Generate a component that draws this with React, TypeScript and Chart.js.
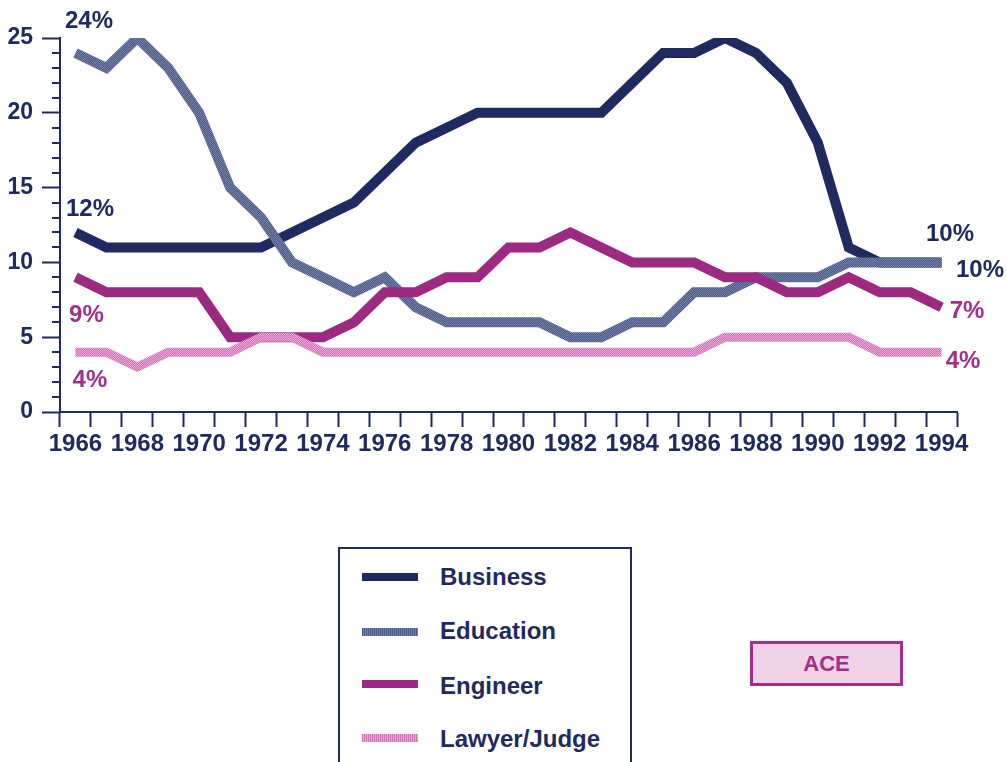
import React, { useEffect, useRef } from "react";
import { Chart, registerables } from "chart.js";

Chart.register(...registerables);

const years = [
  "1966", "1967", "1968", "1969", "1970", "1971", "1972", "1973", "1974", "1975",
  "1976", "1977", "1978", "1979", "1980", "1981", "1982", "1983", "1984", "1985",
  "1986", "1987", "1988", "1989", "1990", "1991", "1992", "1993", "1994",
];
const business = [12, 11, 11, 11, 11, 11, 11, 12, 13, 14, 16, 18, 19, 20, 20, 20, 20, 20, 22, 24, 24, 25, 24, 22, 18, 11, 10, 10, 10];
const education = [24, 23, 25, 23, 20, 15, 13, 10, 9, 8, 9, 7, 6, 6, 6, 6, 5, 5, 6, 6, 8, 8, 9, 9, 9, 10, 10, 10, 10];
const engineer = [9, 8, 8, 8, 8, 5, 5, 5, 5, 6, 8, 8, 9, 9, 11, 11, 12, 11, 10, 10, 10, 9, 9, 8, 8, 9, 8, 8, 7];
const lawyer = [4, 4, 3, 4, 4, 4, 5, 5, 4, 4, 4, 4, 4, 4, 4, 4, 4, 4, 4, 4, 4, 5, 5, 5, 5, 5, 4, 4, 4];
const yTicks = [0, 5, 10, 15, 20, 25];
const seriesNames = ["Business", "Education", "Engineer", "Lawyer/Judge"];

const NAVY = "#1f2a60";
const MAGENTA = "#9c2a83";
const LABEL_MAGENTA = "#a0308a";
const FONT = "'Liberation Sans', Arial, Helvetica, sans-serif";

// end labels: [text, color, series index, point index, dx, dy(baseline)]
const endLabels: [string, string, number, number, number, number][] = [
  ["24%", NAVY, 1, 0, 13.5, -25],
  ["12%", NAVY, 0, 0, 14.5, -16],
  ["9%", LABEL_MAGENTA, 2, 0, 11, 45],
  ["4%", LABEL_MAGENTA, 3, 0, 14.5, 35],
  ["10%", NAVY, 0, 28, 8.5, -21],
  ["10%", NAVY, 1, 28, 38.5, 15],
  ["7%", LABEL_MAGENTA, 2, 28, 25.5, 11],
  ["4%", LABEL_MAGENTA, 3, 28, 21.5, 16],
];

function makePattern(a: string, b: string): CanvasPattern | string {
  const c = document.createElement("canvas");
  c.width = 2;
  c.height = 2;
  const g = c.getContext("2d");
  if (!g) return a;
  g.fillStyle = a;
  g.fillRect(0, 0, 2, 2);
  g.fillStyle = b;
  g.fillRect(0, 0, 1, 1);
  g.fillRect(1, 1, 1, 1);
  const p = g.createPattern(c, "repeat");
  return p || a;
}

const axisExtras = {
  id: "axisExtras",
  afterDraw(chart: any) {
    const { ctx } = chart;
    const y = chart.scales.y;
    const left = chart.chartArea.left;
    ctx.save();
    ctx.strokeStyle = NAVY;
    ctx.lineWidth = 2;
    for (let v = 0; v <= 25; v++) {
      if (v % 5 === 0) continue;
      const py = Math.round(y.getPixelForValue(v));
      ctx.beginPath();
      ctx.moveTo(left - 8, py);
      ctx.lineTo(left, py);
      ctx.stroke();
    }
    ctx.restore();
  },
  afterDatasetsDraw(chart: any) {
    const { ctx } = chart;
    const x = chart.scales.x;
    const y = chart.scales.y;
    ctx.save();
    ctx.font = `bold 24px ${FONT}`;
    ctx.textAlign = "center";
    ctx.textBaseline = "alphabetic";
    for (const [text, color, si, pi, dx, dy] of endLabels) {
      const val = chart.data.datasets[si].data[pi];
      const px = x.getPixelForValue(pi);
      const py = y.getPixelForValue(val);
      ctx.fillStyle = color;
      ctx.fillText(text, px + dx, py + dy);
    }
    ctx.restore();
  },
};

export default function App() {
  const ref = useRef<HTMLCanvasElement | null>(null);

  useEffect(() => {
    if (!ref.current) return;
    const eduPat = makePattern("#4c5a88", "#7581a8");
    const lawPat = makePattern("#cc72b4", "#e9aad7");
    const chart = new Chart(ref.current, {
      type: "line",
      data: {
        labels: years,
        datasets: [
          { label: seriesNames[0], data: business, borderColor: NAVY, borderWidth: 10, order: 4 },
          { label: seriesNames[1], data: education, borderColor: eduPat as any, borderWidth: 10, order: 3 },
          { label: seriesNames[2], data: engineer, borderColor: MAGENTA, borderWidth: 10, order: 2 },
          { label: seriesNames[3], data: lawyer, borderColor: lawPat as any, borderWidth: 9, order: 1 },
        ].map((d) => ({
          ...d,
          pointRadius: 0,
          pointHoverRadius: 0,
          tension: 0,
          fill: false,
          borderCapStyle: "butt" as const,
          borderJoinStyle: "miter" as const,
        })),
      },
      options: {
        animation: false,
        responsive: false,
        maintainAspectRatio: false,
        events: [],
        layout: { padding: { top: 38, right: 50, left: 0, bottom: 0 } },
        plugins: {
          legend: { display: false },
          tooltip: { enabled: false },
          title: { display: false },
        },
        scales: {
          x: {
            type: "category",
            offset: true,
            grid: {
              offset: true,
              drawOnChartArea: false,
              drawTicks: true,
              tickLength: 15,
              tickWidth: 2,
              tickColor: NAVY,
            },
            border: { display: true, color: NAVY, width: 2 },
            ticks: {
              autoSkip: false,
              maxRotation: 0,
              minRotation: 0,
              padding: 3,
              color: NAVY,
              font: { family: FONT, size: 24, weight: "bold" },
              callback: (_v: any, i: number) => (i % 2 === 0 ? years[i] : ""),
            },
            afterFit: (s: any) => {
              s.height = 58;
            },
          },
          y: {
            type: "linear",
            min: 0,
            max: 25,
            afterBuildTicks: (s: any) => {
              s.ticks = yTicks.map((v) => ({ value: v }));
            },
            grid: {
              drawOnChartArea: false,
              drawTicks: true,
              tickLength: 18,
              tickWidth: 2,
              tickColor: NAVY,
            },
            border: { display: true, color: NAVY, width: 2 },
            ticks: {
              padding: 9,
              color: NAVY,
              font: { family: FONT, size: 23, weight: "bold" },
            },
            afterFit: (s: any) => {
              s.width = 60;
            },
          },
        },
      },
      plugins: [axisExtras],
    });
    return () => chart.destroy();
  }, []);

  const legendRows = [
    { name: seriesNames[0], bg: NAVY, top: 573, h: 8 },
    { name: seriesNames[1], bg: "repeating-linear-gradient(90deg, #4c5a88 0 1px, #7581a8 1px 2px)", top: 628, h: 8 },
    { name: seriesNames[2], bg: MAGENTA, top: 680, h: 8 },
    { name: seriesNames[3], bg: "repeating-linear-gradient(90deg, #cc72b4 0 1px, #e9aad7 1px 2px)", top: 734, h: 8 },
  ];
  const textTops = [565, 619, 674, 727];

  return (
    <div style={{ position: "absolute", left: 0, top: 0, width: 1007, height: 762, overflow: "hidden", background: "#ffffff" }}>
      <canvas ref={ref} width={1007} height={470} style={{ position: "absolute", left: 0, top: 0, width: 1007, height: 470 }} />
      <div
        style={{
          position: "absolute",
          left: 338,
          top: 547,
          width: 290,
          height: 260,
          border: `2px solid ${NAVY}`,
        }}
      />
      {legendRows.map((r, i) => (
        <React.Fragment key={r.name}>
          <div style={{ position: "absolute", left: 362, top: r.top, width: 56, height: r.h, background: r.bg }} />
          <div
            style={{
              position: "absolute",
              left: 440,
              top: textTops[i],
              font: `bold 24px ${FONT}`,
              lineHeight: "24px",
              color: NAVY,
              whiteSpace: "nowrap",
            }}
          >
            {r.name}
          </div>
        </React.Fragment>
      ))}
      <div
        style={{
          position: "absolute",
          left: 750,
          top: 641,
          width: 147,
          height: 39,
          border: `3px solid ${LABEL_MAGENTA}`,
          background: "#f0d2e7",
          color: LABEL_MAGENTA,
          font: `bold 22px ${FONT}`,
          lineHeight: "39px",
          textAlign: "center",
        }}
      >
        ACE
      </div>
    </div>
  );
}
